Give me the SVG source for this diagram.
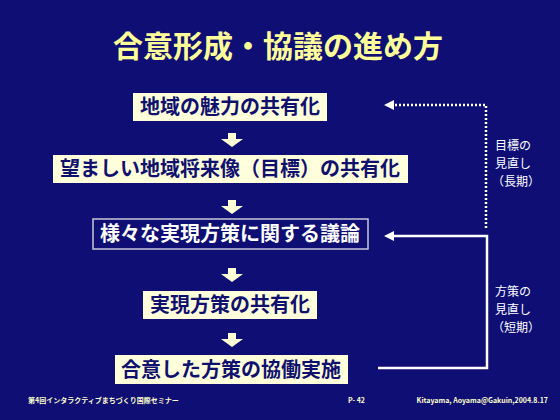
<svg xmlns="http://www.w3.org/2000/svg" width="560" height="420" viewBox="0 0 560 420">
<style>
.bg{fill:#0e0e74}
.title{font-family:"Noto Sans CJK JP","Noto Sans",sans-serif;font-weight:bold;font-size:30px;fill:#ffff99}
.box{fill:#ffffdc}
.boxo{fill:#0e0e74;stroke:#c8c8d8;stroke-width:1.5}
.bt{font-family:"Noto Sans CJK JP","Noto Sans",sans-serif;font-weight:bold;font-size:20px;fill:#10106e;text-anchor:middle}
.bto{font-family:"Noto Sans CJK JP","Noto Sans",sans-serif;font-weight:bold;font-size:20px;fill:#ffffff;text-anchor:middle}
.arr{fill:#ffffd8}
.lbl{font-family:"Noto Sans CJK JP","Noto Sans",sans-serif;font-size:12px;fill:#ffffff}
.foot{font-family:"Noto Sans CJK JP","Noto Sans",sans-serif;font-weight:bold;font-size:7px;fill:#ffffcc}
.dot{fill:none;stroke:#ffffff;stroke-width:2.5;stroke-dasharray:2 2}
.sol{fill:none;stroke:#ffffff;stroke-width:2.5}
</style>
<defs>
<path id="down" d="M-4,0 H4 V6 H11 L0,14 L-11,6 H-4 Z"/>
</defs>
<rect class="bg" x="0" y="0" width="560" height="420"/>
<text class="title" x="278" y="57" text-anchor="middle">合意形成・協議の進め方</text>

<g id="node1"><rect class="box" x="133" y="93" width="194" height="28"/><text class="bt" x="230" y="114">地域の魅力の共有化</text></g>
<g id="node2"><rect class="box" x="53" y="155" width="355" height="28"/><text class="bt" x="230" y="176">望ましい地域将来像（目標）の共有化</text></g>
<g id="node3"><rect class="boxo" x="93" y="219" width="275" height="30"/><text class="bto" x="230" y="241">様々な実現方策に関する議論</text></g>
<g id="node4"><rect class="box" x="143" y="291" width="174" height="28"/><text class="bt" x="230" y="312">実現方策の共有化</text></g>
<g id="node5"><rect class="box" x="115" y="355" width="233" height="29"/><text class="bt" x="231" y="377">合意した方策の協働実施</text></g>

<g id="connectors">
<use href="#down" class="arr" x="232" y="133"/>
<use href="#down" class="arr" x="232" y="200"/>
<use href="#down" class="arr" x="232" y="268"/>
<use href="#down" class="arr" x="232" y="333"/>
<path class="dot" d="M486,228 V105 H392"/>
<path d="M384,105 L394,100 L394,110 Z" fill="#ffffff"/>
<path class="sol" d="M378,368 H487 V236 H392"/>
<path d="M384,236 L394,231 L394,241 Z" fill="#ffffff"/>
</g>

<g id="label-long">
<text class="lbl" x="495" y="150">目標の</text>
<text class="lbl" x="495" y="168">見直し</text>
<text class="lbl" x="492" y="186">（長期）</text>
</g>
<g id="label-short">
<text class="lbl" x="495" y="296">方策の</text>
<text class="lbl" x="495" y="314">見直し</text>
<text class="lbl" x="492" y="332">（短期）</text>
</g>

<text class="foot" x="28" y="403">第4回インタラクティブまちづくり国際セミナー</text>
<text class="foot" x="348" y="403">P- 42</text>
<text class="foot" x="548" y="403" text-anchor="end">Kitayama, Aoyama@Gakuin,2004.8.17</text>
</svg>
